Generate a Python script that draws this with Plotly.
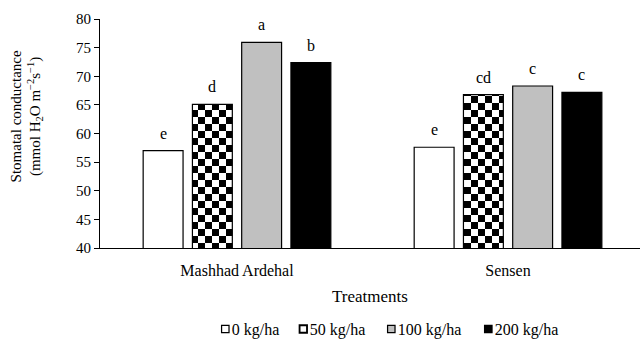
import plotly.graph_objects as go

categories = ["Mashhad Ardehal", "Sensen"]
series_names = ["0 kg/ha", "50 kg/ha", "100 kg/ha", "200 kg/ha"]
values_0 = [57.0, 57.6]
values_50 = [65.1, 66.8]
values_100 = [75.9, 68.3]
values_200 = [72.4, 67.2]
letters_0 = ["e", "e"]
letters_50 = ["d", "cd"]
letters_100 = ["a", "c"]
letters_200 = ["b", "c"]

series_values = [values_0, values_50, values_100, values_200]
series_letters = [letters_0, letters_50, letters_100, letters_200]
fills = ["#ffffff", "#ffffff", "#c0c0c0", "#000000"]
legend_widths = [33, 43, 52, 62]

FONT = "Liberation Serif"
BARGAP = 0.273
BARGROUPGAP = 0.19

fig = go.Figure()
for i, name in enumerate(series_names):
    marker = dict(color=fills[i], line=dict(color="#000000", width=1.2))
    if i == 1:
        marker["pattern"] = dict(shape="+", fgcolor="#000000", bgcolor="#ffffff",
                                 size=7, solidity=0.5, fillmode="overlay")
    fig.add_trace(go.Bar(
        name=name,
        x=categories,
        y=series_values[i],
        marker=marker,
        legendwidth=legend_widths[i],
        hoverinfo="skip",
    ))

# significance letters above each bar (positions derived from the bar layout)
n_series = len(series_names)
slot = (1 - BARGAP) / n_series
for i in range(n_series):
    for j, cat in enumerate(categories):
        fig.add_annotation(
            x=j + (i - (n_series - 1) / 2) * slot, xref="x",
            y=series_values[i][j], yref="y",
            text=series_letters[i][j], showarrow=False,
            yanchor="bottom", yshift=7,
            font=dict(family=FONT, size=16, color="#000000"),
        )

# y-axis title (placed as an annotation so it can sit slightly above centre like the reference)
fig.add_annotation(
    text="Stomatal conductance<br>(mmol H<sub>2</sub>O m<sup>\u22122</sup>s<sup>\u22121</sup>)",
    xref="paper", yref="paper", x=-0.135, y=0.575,
    xanchor="center", yanchor="middle", textangle=-90, showarrow=False,
    font=dict(family=FONT, size=15, color="#000000"),
)

fig.update_layout(
    width=641, height=339,
    margin=dict(l=100, r=1, t=19, b=91, autoexpand=False),
    paper_bgcolor="#ffffff", plot_bgcolor="#ffffff",
    barmode="group", bargap=BARGAP, bargroupgap=BARGROUPGAP,
    font=dict(family=FONT, size=16, color="#000000"),
    showlegend=True,
    legend=dict(orientation="h", x=0.170, xanchor="left", y=-0.28, yanchor="top",
                font=dict(family=FONT, size=16, color="#000000"),
                itemwidth=30, traceorder="normal"),
    xaxis=dict(
        type="category", range=[-0.5055, 1.487], automargin=False,
        showline=True, linecolor="#000000", linewidth=1.2,
        ticks="outside", ticklen=8, tickcolor="rgba(0,0,0,0)",
        tickfont=dict(family=FONT, size=16, color="#000000"),
        title=dict(text="Treatments", font=dict(family=FONT, size=17, color="#000000"), standoff=11),
        showgrid=False, zeroline=False,
    ),
    yaxis=dict(
        range=[40, 80], dtick=5, tick0=40, automargin=False,
        showline=True, linecolor="#000000", linewidth=1.2,
        ticks="outside", ticklen=5, tickcolor="#000000", tickwidth=1.2,
        tickfont=dict(family=FONT, size=15, color="#000000"),
        showgrid=False, zeroline=False,
    ),
)

post_js = """
document.body.style.margin = '0';
document.body.style.padding = '0';
var gd = document.getElementById('{plot_id}');
function applyStyle() {
  var svg = gd.querySelector('svg.main-svg');
  if (!svg) return;
  var ns = 'http://www.w3.org/2000/svg';
  var defs = svg.querySelector('defs');
  if (!defs.querySelector('#checkerfill')) {
    var pat = document.createElementNS(ns, 'pattern');
    pat.setAttribute('id', 'checkerfill');
    pat.setAttribute('patternUnits', 'userSpaceOnUse');
    pat.setAttribute('width', '14');
    pat.setAttribute('height', '14');
    var cells = [[0, 0, 14, 14, '#ffffff'], [0, 0, 7, 7, '#000000'], [7, 7, 7, 7, '#000000']];
    cells.forEach(function(c) {
      var r = document.createElementNS(ns, 'rect');
      r.setAttribute('x', c[0]); r.setAttribute('y', c[1]);
      r.setAttribute('width', c[2]); r.setAttribute('height', c[3]);
      r.setAttribute('fill', c[4]);
      pat.appendChild(r);
    });
    defs.appendChild(pat);
  }
  var traces = gd.querySelectorAll('.barlayer .trace');
  if (traces.length > 1) {
    traces[1].querySelectorAll('path').forEach(function(p) {
      p.style.fill = 'url(#checkerfill)';
    });
  }
  // small legend swatches sitting just before their labels
  var items = gd.querySelectorAll('.legend .traces');
  items.forEach(function(it, k) {
    it.querySelectorAll('.legendpoints path').forEach(function(p) {
      p.setAttribute('transform', 'translate(33.5,0) scale(0.62)');
      p.style.strokeWidth = (k === 1 ? '3px' : '2px');
      if (k === 1) { p.style.fill = '#ffffff'; }
    });
  });
}
applyStyle();
gd.on('plotly_afterplot', applyStyle);
"""

fig.write_html("out.html", post_script=post_js, config={"displayModeBar": False})
